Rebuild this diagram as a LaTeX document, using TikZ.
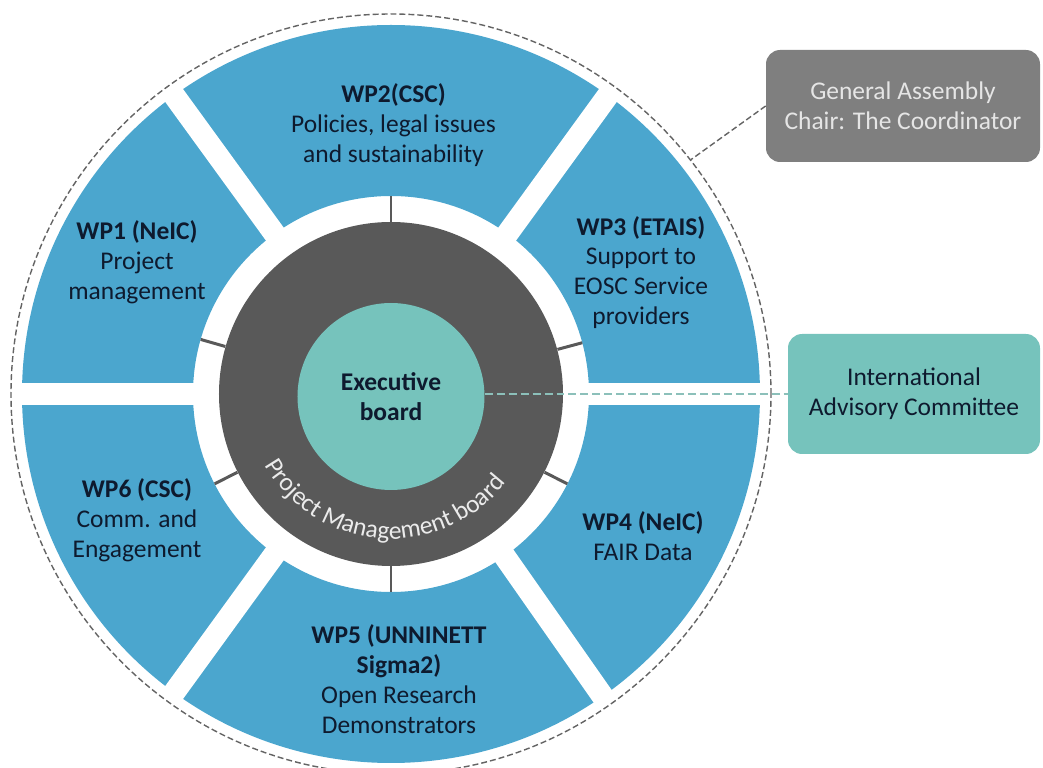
\documentclass[tikz,border=0pt]{standalone}
\usepackage{fontspec}
\setmainfont{Carlito}
\usetikzlibrary{decorations.text}
\definecolor{wpblue}{RGB}{75,166,206}
\definecolor{pmgray}{RGB}{89,89,89}
\definecolor{exteal}{RGB}{118,195,188}
\definecolor{gabox}{RGB}{127,127,127}
\definecolor{wpnavy}{RGB}{14,26,46}
\definecolor{dashgray}{RGB}{100,100,100}
\definecolor{dashteal}{RGB}{140,192,186}
\tikzset{
  wplabel/.style={align=center,text=wpnavy,inner sep=0pt},
  gapline/.style={white,line width=0.44cm},
  pmtick/.style={pmgray,line width=1.7pt},
  sidebox/.style={rounded corners=8pt,align=center,inner sep=0pt},
}
\begin{document}
\begin{tikzpicture}[line join=round,font=\fontsize{14.5}{17}\selectfont]
    \useasboundingbox (-7.82,-7.48) rectangle (13.04,7.88);
    \node [circle,draw=dashgray,dashed,dash pattern=on 3.4pt off 1.7pt,line width=0.8pt,minimum size=15.2cm,inner sep=0pt] (outer) at (0,0) {};
    \fill [wpblue,even odd rule] (0,0) circle (7.38) (0,0) circle (3.96);
    \foreach \a in {0,54,126,180,234,305}
        \draw [gapline] (\a:3.5) -- (\a:7.45);
    \node [circle,fill=pmgray,minimum size=6.88cm,inner sep=0pt] (pmb) at (0,0) {};
    \foreach \a in {15,90,164,207,270,333}
        \draw [pmtick] (pmb.\a) -- (\a:3.96);
    \node [circle,fill=exteal,minimum size=3.74cm,wplabel,font=\fontsize{14.5}{17}\selectfont\bfseries] (exec) at (0,-0.05) {Executive\\board};
    \path [decorate,decoration={text along path,text align=center,
        text={|\color{white!92!black}\fontsize{14.5}{17}\selectfont|Project Management board}}]
        (200:2.9) arc (200:332:2.9);
    \node [wplabel] (wp2) at (0.05,5.38) {\textbf{WP2(CSC)}\\Policies, legal issues\\and sustainability};
    \node [wplabel] (wp1) at (-5.08,2.64) {\textbf{WP1 (NeIC)}\\Project\\management};
    \node [wplabel] (wp3) at (5.0,2.43) {\textbf{WP3 (ETAIS)}\\Support to\\EOSC Service\\providers};
    \node [wplabel] (wp6) at (-5.08,-2.52) {\textbf{WP6 (CSC)}\\Comm. and\\Engagement};
    \node [wplabel] (wp5) at (0.16,-5.7) {\textbf{WP5 (UNNINETT}\\\textbf{Sigma2)}\\Open Research\\Demonstrators};
    \node [wplabel] (wp4) at (5.04,-2.85) {\textbf{WP4 (NeIC)}\\FAIR Data};
    \node [sidebox,fill=gabox,text=white!90!black,minimum width=5.48cm,minimum height=2.24cm] (ga) at (10.24,5.76) {General Assembly\\Chair: The Coordinator};
    \node [sidebox,fill=exteal,text=wpnavy,minimum width=5.04cm,minimum height=2.4cm] (iac) at (10.46,0) {International\\Advisory Committee};
    \draw [dashgray,dashed,dash pattern=on 3.4pt off 1.7pt,line width=0.8pt] (ga.west) -- (outer.38);
    \draw [dashteal,dash pattern=on 4.5pt off 2.3pt,line width=1.1pt] (exec.east |- 0,0) -- (iac.west);
\end{tikzpicture}
\end{document}
